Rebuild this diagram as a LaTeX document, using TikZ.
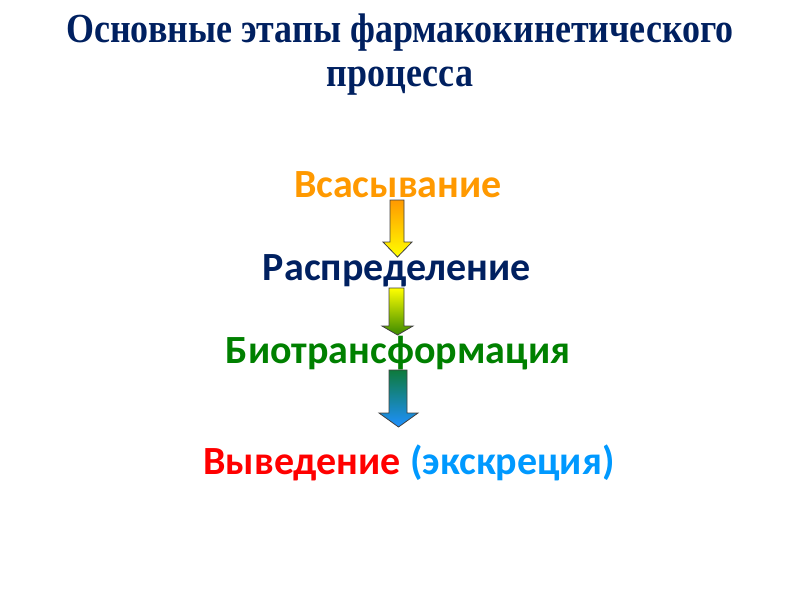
\documentclass[tikz,border=0pt]{standalone}
\usepackage{fontspec}
\usepackage{graphicx}
\setmainfont{Carlito}
\newfontfamily\titlefont{Liberation Serif}
\definecolor{navy}{HTML}{002060}
\definecolor{orng}{HTML}{FF9900}
\definecolor{grn}{HTML}{008000}
\definecolor{lblue}{HTML}{0099FF}
\definecolor{olive}{HTML}{3A8A00}
\definecolor{dgreen}{HTML}{0E7A3C}
\definecolor{skyb}{HTML}{1E90FF}
\tikzset{
  titletext/.style={inner sep=0pt, anchor=base, text=navy, font=\titlefont\bfseries\fontsize{31}{36}\selectfont},
  steptext/.style={inner sep=0pt, anchor=base, font=\bfseries\fontsize{30}{36}\selectfont},
  blockarrow/.style={draw=black!75, line width=0.6pt}
}
\newcommand{\blockarr}[8]{% x1 x2 ytop hx1 hx2 yhead ytip colors
  \shadedraw[blockarrow,#8] (#1,#3) -- (#2,#3) -- (#2,#6) -- (#5,#6) -- ({(#4+#5)/2},#7) -- (#4,#6) -- (#1,#6) -- cycle;
}
\begin{document}
\begin{tikzpicture}[x=0.75pt,y=-0.75pt]
\useasboundingbox (0,0) rectangle (800,600);
\node[titletext] (t1) at (400,42) {\scalebox{0.87}[1]{Основные этапы фармакокинетического}};
\node[titletext] (t2) at (400,86) {\scalebox{0.87}[1]{процесса}};
\node[steptext, text=orng] (s1) at (398,197) {Всасывание};
\node[steptext, text=navy] (s2) at (397,280) {Распределение};
\node[steptext, text=grn] (s3) at (398,363) {Биотрансформация};
\node[steptext] (s4) at (409,474) {\textcolor{red}{Выведение} \textcolor{lblue}{(экскреция)}};
\blockarr{390}{404}{200}{383}{412}{242}{257}{top color=orng, bottom color=yellow}
\blockarr{389}{404}{288}{382}{413}{326}{335}{top color=yellow, bottom color=olive}
\blockarr{389}{407}{370}{379}{418}{413}{427}{top color=dgreen, bottom color=skyb}
\end{tikzpicture}
\end{document}
